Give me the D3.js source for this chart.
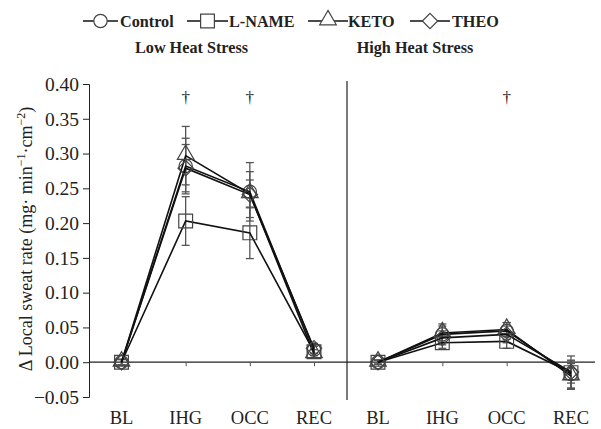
<!DOCTYPE html>
<html><head><meta charset="utf-8">
<script src="https://cdn.jsdelivr.net/npm/d3@7"></script>
<style>body{margin:0;background:#fff}svg{display:block}</style>
</head><body>
<script>
const categories = ["BL","IHG","OCC","REC"];
const seriesNames = ["Control","L-NAME","KETO","THEO"];
const symbolsBySeries = ["circle","square","triangle","diamond"];
// Low heat stress: means and SE
const lowControl = [0, 0.282, 0.245, 0.018];
const lowLNAME   = [0, 0.203, 0.186, 0.015];
const lowKETO    = [0, 0.297, 0.242, 0.012];
const lowTHEO    = [0, 0.279, 0.241, 0.020];
const lowControlErr = [0.004, 0.040, 0.042, 0.008];
const lowLNAMEErr   = [0.004, 0.035, 0.037, 0.008];
const lowKETOErr    = [0.004, 0.042, 0.020, 0.006];
const lowTHEOErr    = [0.004, 0.034, 0.033, 0.007];
// High heat stress
const highControl = [0, 0.040, 0.045, -0.017];
const highLNAME   = [0, 0.028, 0.030, -0.015];
const highKETO    = [0, 0.042, 0.047, -0.020];
const highTHEO    = [0, 0.035, 0.040, -0.014];
const highControlErr = [0.003, 0.012, 0.012, 0.020];
const highLNAMEErr   = [0.003, 0.008, 0.010, 0.024];
const highKETOErr    = [0.003, 0.013, 0.010, 0.018];
const highTHEOErr    = [0.003, 0.010, 0.012, 0.016];
const yTicks = [-0.05,0,0.05,0.10,0.15,0.20,0.25,0.30,0.35,0.40];
const panelTitles = ["Low Heat Stress","High Heat Stress"];
const daggersLow = ["IHG","OCC"];
const daggersHigh = ["OCC"];

const FONT="Liberation Serif";
const W=601,H=429;
const svg=d3.select("body").append("svg").attr("width",W).attr("height",H);
const y=d3.scaleLinear().domain([-0.05,0.40]).range([397,84]);
const xLow=d3.scalePoint().domain(categories).range([121.5,314]);
const xHigh=d3.scalePoint().domain(categories).range([378,571]);
const lineCol="#111", markCol="#444", errCol="#555";

// y axis
const yAxis=svg.append("g").attr("transform","translate(89,0)")
  .call(d3.axisLeft(y).tickValues(yTicks).tickSize(6).tickPadding(4)
    .tickFormat(d=>d<0?"\u22120.05":d3.format(".2f")(d)));
yAxis.select(".domain").attr("stroke","#222");
yAxis.selectAll(".tick line").attr("stroke","#222");
yAxis.selectAll("text").attr("font-size",19.5).attr("fill","#222").attr("font-family",FONT);

// zero line
svg.append("line").attr("x1",89).attr("x2",595).attr("y1",y(0)).attr("y2",y(0)).attr("stroke","#222").attr("stroke-width",1.2);
// divider
svg.append("line").attr("x1",347).attr("x2",347).attr("y1",81).attr("y2",400).attr("stroke","#222").attr("stroke-width",1.2);

// x ticks & labels
[xLow,xHigh].forEach(xs=>{
  const g=svg.append("g").attr("transform",`translate(0,${y(0)})`)
    .call(d3.axisBottom(xs).tickSize(4).tickSizeOuter(0).tickPadding(0));
  g.select(".domain").remove();
  g.selectAll(".tick line").attr("stroke","#555");
  g.selectAll("text").remove();
  categories.forEach(c=>{
    svg.append("text").attr("x",xs(c)).attr("y",424).attr("text-anchor","middle")
      .attr("font-family",FONT).attr("font-size",18.5).attr("fill","#222").text(c);
  });
});

// y title
const yt=svg.append("text").attr("transform","translate(32,239) rotate(-90)")
  .attr("text-anchor","middle").attr("font-family",FONT).attr("font-size",18).attr("fill","#222");
yt.append("tspan").text("\u0394 Local sweat rate (mg\u00b7 min");
yt.append("tspan").attr("font-size",12).attr("dy",-7).text("\u22121");
yt.append("tspan").attr("dy",7).text("\u00b7cm");
yt.append("tspan").attr("font-size",12).attr("dy",-7).text("\u22122");
yt.append("tspan").attr("dy",7).text(")");

function symPath(type,size){
  const m={circle:d3.symbolCircle,square:d3.symbolSquare,triangle:d3.symbolTriangle,diamond:d3.symbolDiamond2};
  return d3.symbol().type(m[type]).size(size)();
}
const symSize={circle:140,square:190,triangle:120,diamond:150};

function drawPanel(xs,means,errs){
  means.forEach((vals,si)=>{
    const pts=categories.map((c,i)=>({c,v:vals[i],e:errs[si][i]}));
    const eg=svg.append("g");
    pts.forEach(p=>{
      eg.append("line").attr("x1",xs(p.c)).attr("x2",xs(p.c)).attr("y1",y(p.v-p.e)).attr("y2",y(p.v+p.e)).attr("stroke",errCol).attr("stroke-width",1.3);
      [p.v-p.e,p.v+p.e].forEach(v=>eg.append("line").attr("x1",xs(p.c)-4).attr("x2",xs(p.c)+4).attr("y1",y(v)).attr("y2",y(v)).attr("stroke",errCol).attr("stroke-width",1.3));
    });
  });
  means.forEach((vals,si)=>{
    const pts=categories.map((c,i)=>({c,v:vals[i]}));
    svg.append("path").datum(pts).attr("fill","none").attr("stroke",lineCol).attr("stroke-width",1.6)
      .attr("d",d3.line().x(d=>xs(d.c)).y(d=>y(d.v)));
    const t=symbolsBySeries[si];
    svg.append("g").selectAll("path").data(pts).join("path")
      .attr("transform",d=>`translate(${xs(d.c)},${y(d.v)+(t==="triangle"?-1:0)})`)
      .attr("d",symPath(t,symSize[t])).attr("fill","none").attr("stroke",markCol).attr("stroke-width",1.2);
  });
}
drawPanel(xLow,[lowControl,lowLNAME,lowKETO,lowTHEO],[lowControlErr,lowLNAMEErr,lowKETOErr,lowTHEOErr]);
drawPanel(xHigh,[highControl,highLNAME,highKETO,highTHEO],[highControlErr,highLNAMEErr,highKETOErr,highTHEOErr]);

// daggers
const dag=(x)=>svg.append("text").attr("x",x).attr("y",103).attr("text-anchor","middle").attr("font-family",FONT).attr("font-size",17).attr("fill","#222").text("\u2020");
daggersLow.forEach(c=>dag(xLow(c)));
daggersHigh.forEach(c=>dag(xHigh(c)));

// panel titles
[191.5,415].forEach((cx,i)=>{
  svg.append("text").attr("x",cx).attr("y",53).attr("text-anchor","middle").attr("font-family",FONT).attr("font-size",16.2).attr("font-weight","bold").attr("fill","#222").text(panelTitles[i]);
});

// legend
const legX=[[83,118,120],[187,228,229],[308,348,348],[410,450,452]];
seriesNames.forEach((n,i)=>{
  const [a,b,tx]=legX[i], cy=21;
  const g=svg.append("g");
  g.append("line").attr("x1",a).attr("x2",b).attr("y1",cy).attr("y2",cy).attr("stroke",lineCol).attr("stroke-width",1.4);
  const t=symbolsBySeries[i];
  g.append("path").attr("transform",`translate(${(a+b)/2},${cy+(t==="triangle"?-1:0)})`).attr("d",symPath(t,symSize[t]))
    .attr("fill","#fff").attr("stroke",markCol).attr("stroke-width",1.2);
  g.append("text").attr("x",tx).attr("y",cy+6).attr("font-family",FONT).attr("font-size",16.2).attr("font-weight","bold").attr("fill","#222").text(n);
});
</script>
</body></html>
